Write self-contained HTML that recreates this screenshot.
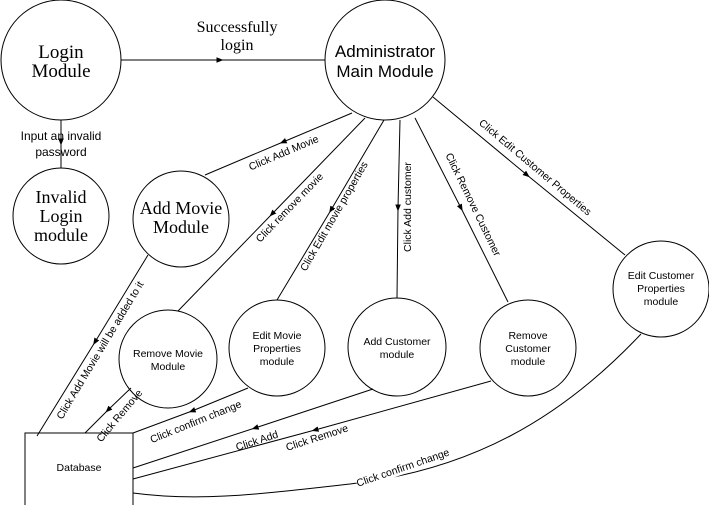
<!DOCTYPE html>
<html><head><meta charset="utf-8"><style>
html,body{margin:0;padding:0;background:#fff;}
svg{display:block;}
.s{font-family:"Liberation Sans",Arial,sans-serif;font-size:10.5px;fill:#000;}
.f{font-family:"Liberation Serif",serif;fill:#000;}
</style></head><body>
<svg width="709" height="505" viewBox="0 0 709 505" xmlns="http://www.w3.org/2000/svg">
<defs><marker id="a" viewBox="0 0 10 10" refX="5" refY="5" markerWidth="7" markerHeight="7" orient="auto"><path d="M0,1 L10,5 L0,9z" fill="#000"/></marker></defs>
<g fill="none" stroke="#000" stroke-width="1">
<circle cx="61" cy="60" r="60"/>
<circle cx="385" cy="60" r="60"/>
<circle cx="61" cy="216" r="48"/>
<circle cx="181" cy="219" r="48"/>
<circle cx="168" cy="359" r="49"/>
<circle cx="277" cy="348" r="48"/>
<circle cx="397" cy="347" r="49"/>
<circle cx="528" cy="348" r="48"/>
<circle cx="661" cy="289" r="48"/>
<rect x="25" y="433" width="108" height="76"/>
<path d="M121,60 L220,60 L325,60" marker-mid="url(#a)"/>
<path d="M61,120 L61,142 L61,168" marker-mid="url(#a)"/>
<path d="M352,113 L283,142 L205,175" marker-mid="url(#a)"/>
<path d="M365,118 L272,214 L178,311" marker-mid="url(#a)"/>
<path d="M384,120 L331,210 L277,300" marker-mid="url(#a)"/>
<path d="M400,120 L398,208 L397,298" marker-mid="url(#a)"/>
<path d="M415,118 L461,208 L508,302" marker-mid="url(#a)"/>
<path d="M433,97 L527,175 L625,255" marker-mid="url(#a)"/>
<path d="M148,255 L95,342 L37,436" marker-mid="url(#a)"/>
<path d="M131,388 L108,410 L85,433" marker-mid="url(#a)"/>
<path d="M248,388 L192,411 L133,433" marker-mid="url(#a)"/>
<path d="M373,389 L255,428 L133,468" marker-mid="url(#a)"/>
<path d="M491,381 L315,430 L133,479" marker-mid="url(#a)"/>
<path d="M641,334 C560,420 470,470 350,484 C260,494 200,502 133,493"/>
</g>
<rect x="354" y="461" width="98" height="13" fill="#fff" transform="rotate(-19 403 467)"/>
<text class="f" font-size="19" text-anchor="middle" x="61" y="58">Login</text>
<text class="f" font-size="19" text-anchor="middle" x="61" y="77">Module</text>
<text class="s" text-anchor="middle" x="385" y="57" style="font-size:17px">Administrator</text>
<text class="s" text-anchor="middle" x="385" y="77" style="font-size:17px">Main Module</text>
<text class="f" font-size="18" text-anchor="middle" x="61" y="203">Invalid</text>
<text class="f" font-size="18" text-anchor="middle" x="61" y="222">Login</text>
<text class="f" font-size="18" text-anchor="middle" x="61" y="241">module</text>
<text class="f" font-size="18" text-anchor="middle" x="181" y="214">Add Movie</text>
<text class="f" font-size="18" text-anchor="middle" x="181" y="233">Module</text>
<text class="f" font-size="16" text-anchor="middle" x="237" y="32">Successfully</text>
<text class="f" font-size="16" text-anchor="middle" x="237" y="50">login</text>
<text class="s" style="font-size:12px" text-anchor="middle" x="61" y="140">Input an invalid</text>
<text class="s" style="font-size:12px" text-anchor="middle" x="61" y="156">password</text>
<text class="s" text-anchor="middle" x="168" y="357">Remove Movie</text>
<text class="s" text-anchor="middle" x="168" y="370">Module</text>
<text class="s" text-anchor="middle" x="277" y="339">Edit Movie</text>
<text class="s" text-anchor="middle" x="277" y="352">Properties</text>
<text class="s" text-anchor="middle" x="277" y="365">module</text>
<text class="s" text-anchor="middle" x="397" y="345">Add Customer</text>
<text class="s" text-anchor="middle" x="397" y="358">module</text>
<text class="s" text-anchor="middle" x="528" y="339">Remove</text>
<text class="s" text-anchor="middle" x="528" y="352">Customer</text>
<text class="s" text-anchor="middle" x="528" y="365">module</text>
<text class="s" text-anchor="middle" x="661" y="279">Edit Customer</text>
<text class="s" text-anchor="middle" x="661" y="292">Properties</text>
<text class="s" text-anchor="middle" x="661" y="305">module</text>
<text class="s" text-anchor="middle" x="79" y="471">Database</text>
<g class="s" text-anchor="middle">
<text transform="translate(285,156) rotate(-23)">Click Add Movie</text>
<text transform="translate(292,210) rotate(-46)">Click remove movie</text>
<text transform="translate(337,218) rotate(-60)">Click Edit movie properties</text>
<text transform="translate(411,207) rotate(-90)">Click Add customer</text>
<text transform="translate(470,206) rotate(64)">Click Remove Customer</text>
<text transform="translate(533,170) rotate(40)">Click Edit Customer Properties</text>
<text transform="translate(103,352) rotate(-59)">Click Add Movie will be added to it</text>
<text transform="translate(122,418) rotate(-50)">Click Remove</text>
<text transform="translate(197,425) rotate(-22)">Click confirm change</text>
<text transform="translate(258,444) rotate(-18)">Click Add</text>
<text transform="translate(318,441) rotate(-18)">Click Remove</text>
<text transform="translate(404,471) rotate(-19)">Click confirm change</text>
</g>
</svg>
</body></html>
